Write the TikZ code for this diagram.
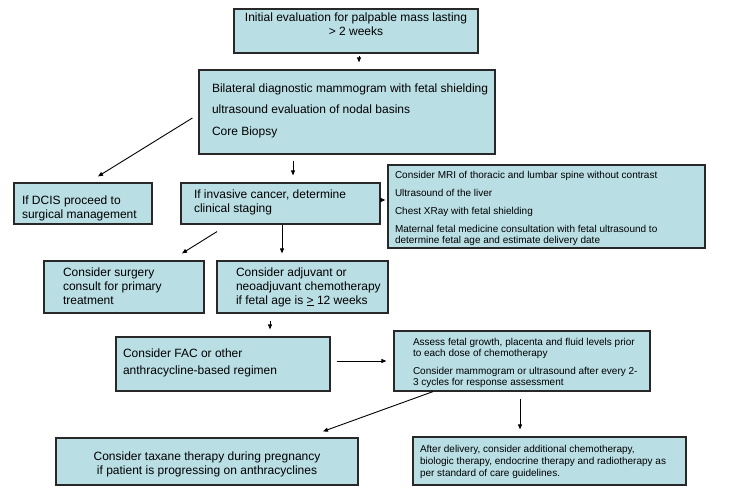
\documentclass[tikz,border=0pt]{standalone}
\usepackage{fontspec}
\setmainfont{Liberation Sans}
\usetikzlibrary{arrows.meta,calc}
\definecolor{boxfill}{RGB}{185,222,228}
\definecolor{boxline}{RGB}{40,40,40}
\newcommand\fbig{\fontsize{12}{14}\selectfont}
\newcommand\fsmall{\fontsize{10}{11}\selectfont}
\newcommand\fsmallb{\fontsize{10}{12}\selectfont}
\newcommand\LL[1]{\mbox{#1}}
\newcommand\boxtext[5]{\parbox[c][#2][t]{#1}{\vspace*{#3}#4\strut#5\par}}
\tikzset{
  box/.style={draw=boxline, fill=boxfill, line width=1.2pt, rectangle, inner ysep=0pt},
  arr/.style={-{Triangle[length=5pt,width=4pt]}, line width=0.9pt, draw=black}
}
\begin{document}
\begin{tikzpicture}[x=1pt,y=-1pt]
\useasboundingbox (0,0) rectangle (739,495);
\fill[white] (0,0) rectangle (739,495);

\node[box, inner xsep=4pt] (top) at (356,31)
  {\boxtext{236pt}{44pt}{3.2pt}{\fbig\centering}{\LL{Initial evaluation for palpable mass lasting}\\ \LL{> 2 weeks}}};
\node[box, inner xsep=13pt] (b2) at (347,112)
  {\boxtext{270pt}{84pt}{12.2pt}{\fbig\raggedright}{\LL{Bilateral diagnostic mammogram with fetal shielding}\\[7.5pt]\LL{ultrasound evaluation of nodal basins}\\[7.5pt]\LL{Core Biopsy}}};
\node[box, inner xsep=8pt] (dcis) at (83,203.5)
  {\boxtext{122pt}{41pt}{11.2pt}{\fbig\raggedright}{\LL{If DCIS proceed to}\\ \LL{surgical management}}};
\node[box, inner xsep=13pt] (inv) at (280.5,203.5)
  {\boxtext{173pt}{41pt}{5.2pt}{\fbig\raggedright}{\LL{If invasive cancer, determine}\\ \LL{clinical staging}}};
\node[box, inner xsep=7pt] (mri) at (546.5,206.5)
  {\boxtext{303pt}{83pt}{5.8pt}{\fsmall\raggedright}{\LL{Consider MRI of thoracic and lumbar spine without contrast}\\[7pt]\LL{Ultrasound of the liver}\\[7pt]\LL{Chest XRay with fetal shielding}\\[7pt]\LL{Maternal fetal medicine consultation with fetal ultrasound to}\\ \LL{determine fetal age and estimate delivery date}}};
\node[box, inner xsep=19pt] (surg) at (124,287)
  {\boxtext{122pt}{52pt}{5.2pt}{\fbig\raggedright}{\LL{Consider surgery}\\ \LL{consult for primary}\\ \LL{treatment}}};
\node[box, inner xsep=19pt] (chemo) at (302.5,287)
  {\boxtext{133pt}{52pt}{5.2pt}{\fbig\raggedright}{\LL{Consider adjuvant or}\\ \LL{neoadjuvant chemotherapy}\\ \LL{if fetal age is \underline{>} 12 weeks}}};
\node[box, inner xsep=7pt] (fac) at (223,364)
  {\boxtext{200pt}{54pt}{10.2pt}{\fbig\raggedright}{\LL{Consider FAC or other}\\[3pt]\LL{anthracycline-based regimen}}};
\node[box, inner xsep=19pt] (assess) at (522,361)
  {\boxtext{218pt}{60pt}{6.8pt}{\fsmall\raggedright}{\LL{Assess fetal growth, placenta and fluid levels prior}\\ \LL{to each dose of chemotherapy}\\[7pt]\LL{Consider mammogram or ultrasound after every 2-}\\ \LL{3 cycles for response assessment}}};
\node[box, inner xsep=4pt] (taxane) at (207,461.5)
  {\boxtext{294pt}{47pt}{12.2pt}{\fbig\centering}{\LL{Consider taxane therapy during pregnancy}\\ \LL{if patient is progressing on anthracyclines}}};
\node[box, inner xsep=7pt] (after) at (549.5,461)
  {\boxtext{259pt}{48pt}{6.8pt}{\fsmallb\raggedright}{\LL{After delivery, consider additional chemotherapy,}\\ \LL{biologic therapy, endocrine therapy and radiotherapy as}\\ \LL{per standard of care guidelines.}}};

\draw[arr] ([xshift=3pt,yshift=-2pt]top.south) -- ([xshift=12pt,yshift=7pt]b2.north);
\draw[arr] ([xshift=-6pt,yshift=-6pt]b2.west) -- ([xshift=15pt,yshift=6pt]dcis.north);
\draw[arr] ([xshift=-54pt,yshift=-6pt]b2.south) -- ([xshift=12.5pt,yshift=7pt]inv.north);
\draw[arr] ([yshift=3.5pt]inv.east) -- ([xshift=-2pt,yshift=6.5pt]mri.west);
\draw[arr] ([xshift=-63.5pt,yshift=-7pt]inv.south) -- ([xshift=58pt,yshift=7pt]surg.north);
\draw[arr] ([xshift=1.5pt]inv.south) -- ([xshift=-20.5pt,yshift=7pt]chemo.north);
\draw[arr] ([xshift=-32.5pt,yshift=-7pt]chemo.south) -- ([xshift=47pt,yshift=7pt]fac.north);
\draw[arr] ([xshift=6pt,yshift=3pt]fac.east) -- ([xshift=-7pt]assess.west);
\draw[arr] ([xshift=-89pt]assess.south) -- ([xshift=116pt,yshift=6pt]taxane.north);
\draw[arr] ([xshift=-2pt,yshift=-7pt]assess.south) -- ([xshift=-29.5pt,yshift=7pt]after.north);
\end{tikzpicture}
\end{document}
